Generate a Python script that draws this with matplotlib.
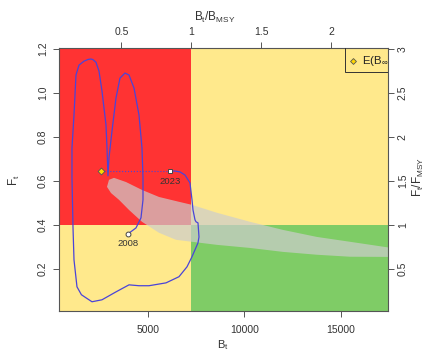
import matplotlib
matplotlib.use("Agg")
import matplotlib.pyplot as plt
from matplotlib.patches import Rectangle, Polygon

plt.rcParams['font.family'] = ['Liberation Sans', 'DejaVu Sans']
plt.rcParams['mathtext.fontset'] = 'custom'
plt.rcParams['mathtext.rm'] = 'Liberation Sans'
plt.rcParams['mathtext.it'] = 'Liberation Sans'

# reference points
Bmsy = 7250
Fmsy = 0.4

# smoothed stock trajectory 2008 -> 2023 (biomass, fishing mortality)
traj_B = [3964, 4378, 4637, 4741, 4741, 4689, 4534, 4275, 4016, 3808, 3549, 3342,
          3135, 2979, 2927, 2876, 2824, 2617, 2461, 2306, 2150, 2047, 1900, 1684, 1425, 1269,
          1166, 1062, 1062, 1114, 1166, 1321, 1550, 1788, 2098, 2617, 3342, 4016, 4534,
          5052, 5933, 6606, 7021, 7280, 7591, 7642, 7591, 7487, 7435, 7332, 7280,
          7176, 6917, 6658, 6399, 6140]
traj_F = [0.359, 0.386, 0.432, 0.514, 0.614, 0.750, 0.900, 1.023, 1.082, 1.091, 1.068, 0.977,
          0.827, 0.705, 0.623, 0.750, 0.855, 1.009, 1.100, 1.140, 1.152, 1.155, 1.153, 1.145, 1.127, 1.082,
          0.900, 0.750, 0.614, 0.391, 0.241, 0.118, 0.082, 0.068, 0.050, 0.059, 0.095, 0.127, 0.123,
          0.123, 0.136, 0.164, 0.209, 0.255, 0.318, 0.345, 0.409, 0.414, 0.423, 0.468, 0.514,
          0.591, 0.627, 0.641, 0.645, 0.645]

# first / last year
years = ['2008', '2023']
year_B = [3964, 6140]
year_F = [0.359, 0.645]

# equilibrium point E(B_inf)
einf_B = 2565
einf_F = 0.645

# confidence region outline
ci_B = [2876, 2979, 3238, 3860, 4689, 5570, 6606, 7280, 8575, 10285, 11995, 13756,
        15466, 18000, 18000, 15466, 13756, 11995, 10285, 8575, 7280, 6451, 5570,
        4689, 4016, 3498, 3083]
ci_F = [0.573, 0.605, 0.614, 0.595, 0.559, 0.527, 0.505, 0.491, 0.455, 0.414, 0.377, 0.345,
        0.323, 0.290, 0.254, 0.255, 0.264, 0.277, 0.295, 0.309, 0.323, 0.332, 0.364,
        0.414, 0.468, 0.514, 0.545]

xlim = (389, 17435)
ylim = (0.008, 1.205)

fig = plt.figure(figsize=(4.3, 3.54), dpi=100)
ax = fig.add_axes([0.1372, 0.1215, 0.7651, 0.7429])
ax.set_xlim(*xlim)
ax.set_ylim(*ylim)

# kobe quadrants
ax.add_patch(Rectangle((xlim[0], Fmsy), Bmsy - xlim[0], ylim[1] - Fmsy, color='#ff3333', lw=0, zorder=0))
ax.add_patch(Rectangle((Bmsy, Fmsy), xlim[1] - Bmsy, ylim[1] - Fmsy, color='#ffe98c', lw=0, zorder=0))
ax.add_patch(Rectangle((xlim[0], ylim[0]), Bmsy - xlim[0], Fmsy - ylim[0], color='#ffe98c', lw=0, zorder=0))
ax.add_patch(Rectangle((Bmsy, ylim[0]), xlim[1] - Bmsy, Fmsy - ylim[0], color='#7fcc66', lw=0, zorder=0))

ax.add_patch(Polygon(list(zip(ci_B, ci_F)), closed=True, facecolor='#cdcdcd', alpha=0.7,
                     edgecolor='none', zorder=1))

ax.plot(traj_B, traj_F, color='#4a44d8', lw=0.9, zorder=2)
ax.plot([einf_B, year_B[1]], [einf_F, year_F[1]], color='#4a44d8', lw=0.8, ls=':', zorder=2)

ax.plot(year_B[0], year_F[0], 'o', ms=3.5, mfc='white', mec='#444444', mew=0.7, zorder=3)
ax.plot(year_B[1], year_F[1], 's', ms=3.5, mfc='white', mec='#444444', mew=0.7, zorder=3)
ax.plot(einf_B, einf_F, 'D', ms=3.5, mfc='#ffd700', mec='#555555', mew=0.6, zorder=3)
for yr, b, f in zip(years, year_B, year_F):
    ax.text(b, f - 0.025, yr, ha='center', va='top', fontsize=6.8, color='#333333', zorder=3)

# legend box (clipped at the plot edge, like the original)
ax.add_patch(Rectangle((0.869, 0.909), 0.2, 0.2, transform=ax.transAxes, fill=False,
                       edgecolor='#333333', lw=0.7, zorder=4, clip_on=True))
ax.plot([0.894], [0.951], 'D', ms=3, mfc='#ffd700', mec='#555555', mew=0.6,
        transform=ax.transAxes, zorder=5, clip_on=True)
ax.text(0.922, 0.951, r'E(B$_\infty$)', transform=ax.transAxes, fontsize=8.2,
        va='center', ha='left', color='#222222', zorder=5, clip_on=True)

for s in ax.spines.values():
    s.set_color('#555555')
    s.set_linewidth(0.8)

ax.set_xticks([5000, 10000, 15000])
ax.set_yticks([0.2, 0.4, 0.6, 0.8, 1.0, 1.2])
ax.set_yticklabels(['0.2', '0.4', '0.6', '0.8', '1.0', '1.2'], rotation=90, va='center')
ax.tick_params(colors='#555555', labelcolor='#333333', labelsize=7.5, length=4, width=0.7)
ax.tick_params(axis='x', pad=6)
ax.tick_params(axis='y', pad=4)

top = ax.secondary_xaxis('top', functions=(lambda b: b / Bmsy, lambda r: r * Bmsy))
top.set_xticks([0.5, 1, 1.5, 2])
top.set_xticklabels(['0.5', '1', '1.5', '2'])
top.tick_params(colors='#555555', labelcolor='#333333', labelsize=7.5, length=4, width=0.7, pad=4)

right = ax.secondary_yaxis('right', functions=(lambda f: f / Fmsy, lambda r: r * Fmsy))
right.set_yticks([0.5, 1, 1.5, 2, 2.5, 3])
right.set_yticklabels(['0.5', '1', '1.5', '2', '2.5', '3'], rotation=90, va='center')
right.tick_params(colors='#555555', labelcolor='#333333', labelsize=7.5, length=4, width=0.7, pad=3)
for sp in list(top.spines.values()) + list(right.spines.values()):
    sp.set_visible(False)

fig.text(0.519, 0.025, r'$\mathrm{B_t}$', ha='center', va='center', fontsize=8, color='#333333')
fig.text(0.5, 0.95, r'$\mathrm{B_t/B_{MSY}}$', ha='center', va='center', fontsize=8.5, color='#333333')
fig.text(0.033, 0.49, r'$\mathrm{F_t}$', ha='center', va='center', rotation=90, fontsize=8.5, color='#333333')
fig.text(0.974, 0.50, r'$\mathrm{F_t/F_{MSY}}$', ha='center', va='center', rotation=90, fontsize=8.5, color='#333333')

fig.savefig('out.png', dpi=100)
